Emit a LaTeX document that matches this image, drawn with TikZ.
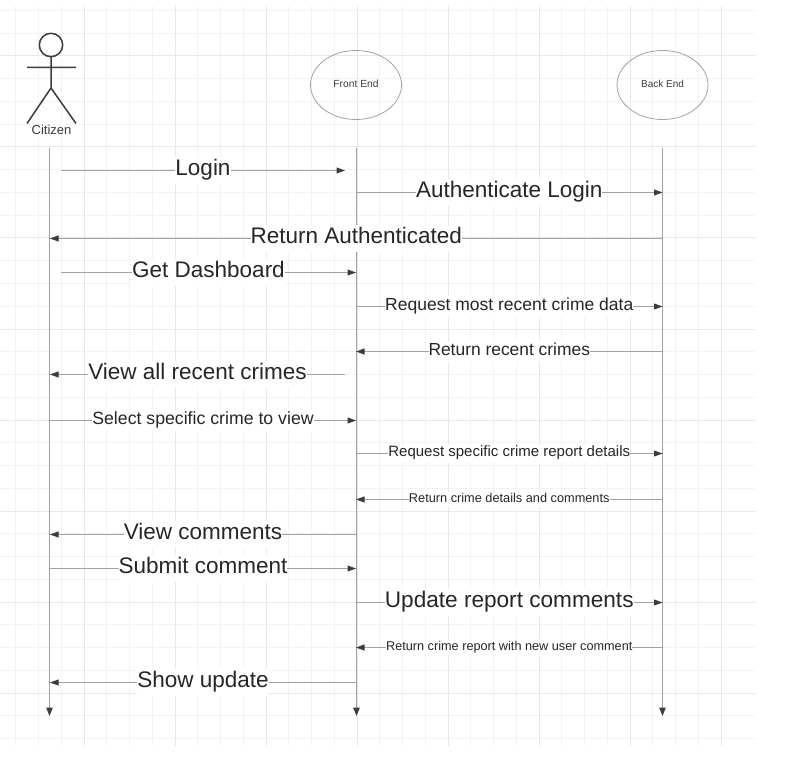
\documentclass[tikz,border=0pt]{standalone}
\usepackage{fontspec}
\setmainfont{Liberation Sans}
\usetikzlibrary{arrows.meta,shapes.geometric}
\definecolor{gmin}{HTML}{F3F3F3}
\definecolor{gmaj}{HTML}{E8E8E8}
\definecolor{ln}{HTML}{A0A0A0}
\definecolor{ml}{HTML}{A2A2A2}
\definecolor{hd}{HTML}{3C3C3C}
\definecolor{txt}{HTML}{262626}
\tikzset{
  x=1pt,y=-1pt,
  life/.style={draw=ln,line width=1.2pt,-{Triangle[length=8.5pt,width=6.5pt,color=hd]}},
  msg/.style={draw=ml,line width=1pt,-{Triangle[length=8.5pt,width=6pt,color=hd]}},
  lab/.style={fill=white,inner sep=0pt,text=txt,anchor=base},
  part/.style={draw=ml,line width=0.8pt,ellipse,minimum width=91pt,minimum height=69pt,inner sep=0pt,text=hd},
  stick/.style={draw=hd,line width=1.5pt}
}
\newcommand{\msgline}[6]{% name, x1, x2, y, size, text
  \coordinate (#1a) at (#2,#4);
  \coordinate (#1b) at (#3,#4);
  \path[msg] (#1a) -- (#1b);
  \pgfmathsetmacro\lh{.81*#5}
  \pgfmathsetmacro\ld{.39*#5}
  \node[lab,text height=\lh pt,text depth=\ld pt,font=\fontsize{#5}{#5}\selectfont] (#1) at ({(#2+#3)/2},{#4+.21*#5}) {#6};
}
\begin{document}
\begin{tikzpicture}
\useasboundingbox (0,0) rectangle (788,757);
\fill[white] (0,0) rectangle (788,757);
% grid
\foreach \k in {-3,...,28}{
  \pgfmathsetmacro\xx{84+22.75*\k}
  \draw[gmin,line width=1pt] (\xx,6) -- (\xx,746);
}
\foreach \k in {-2,...,30}{
  \pgfmathsetmacro\yy{56+22.75*\k}
  \draw[gmin,line width=1pt] (0,\yy) -- (755,\yy);
}
\foreach \k in {0,...,7}{
  \pgfmathsetmacro\xx{84+91*\k}
  \draw[gmaj,line width=1pt] (\xx,6) -- (\xx,746);
  \pgfmathsetmacro\yy{56+91*\k}
  \draw[gmaj,line width=1pt] (0,\yy) -- (755,\yy);
}
% participants
\node[part] (fe) at (356,85) {};
\node[text=hd,inner sep=0pt,font=\fontsize{10.3}{11}\selectfont] (fet) at (356,84) {Front End};
\node[part] (be) at (662.5,85) {};
\node[text=hd,inner sep=0pt,font=\fontsize{10}{11}\selectfont] (bet) at (662.5,84) {Back End};
% actor
\coordinate (head) at (51,45);
\draw[stick] (head) circle (11.7);
\coordinate (neck) at (51,57);
\coordinate (hip) at (51,88);
\coordinate (lh) at (27,67.5);
\coordinate (rh) at (76,67.5);
\coordinate (lf) at (27,123.5);
\coordinate (rf) at (76,123.5);
\draw[stick] (neck) -- (hip) (lh) -- (rh) (lf) -- (hip) -- (rf);
\node[text=hd,inner sep=0pt,font=\fontsize{13}{13}\selectfont] (cit) at (51.5,129.5) {Citizen};
% lifelines
\coordinate (l1a) at (49.5,148); \coordinate (l1b) at (49.5,716);
\coordinate (l2a) at (356.5,148); \coordinate (l2b) at (356.5,716);
\coordinate (l3a) at (662.5,148); \coordinate (l3b) at (662.5,716);
\path[life] (l1a) -- (l1b);
\path[life] (l2a) -- (l2b);
\path[life] (l3a) -- (l3b);
% messages
\msgline{m1}{61}{345}{170.5}{22.5}{Login}
\msgline{m2}{356}{662.5}{192.5}{22.5}{Authenticate Login}
\msgline{m3}{662.5}{50}{238.5}{22.5}{Return Authenticated}
\msgline{m4}{61}{356}{272.5}{22.5}{Get Dashboard}
\msgline{m5}{356}{662.5}{306.5}{17.5}{Request most recent crime data}
\msgline{m6}{662.5}{356}{351.5}{17.4}{Return recent crimes}
\msgline{m7}{345}{50}{374.5}{22.5}{View all recent crimes}
\msgline{m8}{50}{356}{420.5}{17.7}{Select specific crime to view}
\msgline{m9}{356}{662.5}{453.5}{15}{Request specific crime report details}
\msgline{m10}{662.5}{356}{499.5}{12.75}{Return crime details and comments}
\msgline{m11}{356}{50}{534.5}{22.5}{View comments}
\msgline{m12}{50}{356}{568.5}{22.5}{Submit comment}
\msgline{m13}{356}{662.5}{602.5}{22.6}{Update report comments}
\msgline{m14}{662.5}{356}{647.5}{12.7}{Return crime report with new user comment}
\msgline{m15}{356}{50}{682.5}{22.5}{Show update}
\end{tikzpicture}
\end{document}
